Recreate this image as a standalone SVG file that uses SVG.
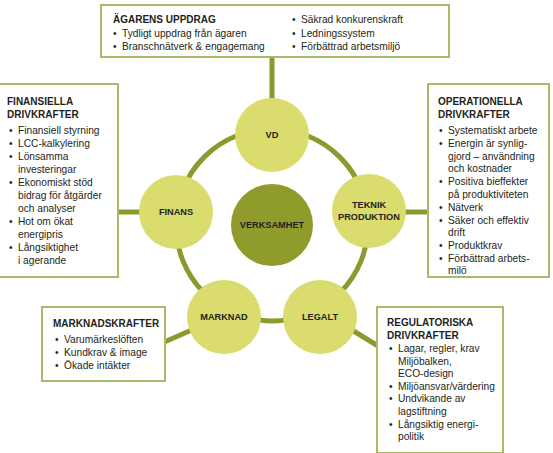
<svg xmlns="http://www.w3.org/2000/svg" width="553" height="453" viewBox="0 0 553 453">
<style>
.box{fill:#fff;stroke:#a9bb68;stroke-width:2}
.con{stroke:#8b9a2e;stroke-width:5;fill:none}
.node{fill:#dadc6e}
.core{fill:#8f9b2b}
.h{font-family:"Liberation Sans",Arial,sans-serif;font-weight:bold;font-size:10px;fill:#231f20}
.t{font-family:"Liberation Sans",Arial,sans-serif;font-size:10.2px;fill:#231f20}
.n{font-family:"Liberation Sans",Arial,sans-serif;font-weight:bold;font-size:9.2px;fill:#231f20;text-anchor:middle}
</style>
<rect width="553" height="453" fill="#fff"/>
<g id="connectors">
<circle class="con" cx="272" cy="225" r="96"/>
<line class="con" x1="272" y1="57" x2="272" y2="102"/>
<line class="con" x1="118" y1="212" x2="142" y2="212"/>
<line class="con" x1="404" y1="212" x2="428" y2="212"/>
<line class="con" x1="162" y1="343" x2="194" y2="329"/>
<line class="con" x1="352" y1="330" x2="378" y2="346"/>
</g>
<g id="box-top">
<rect class="box" x="101" y="5" width="348" height="52"/>
<text class="h" x="113" y="23">ÄGARENS UPPDRAG</text>
<text class="t" x="113" y="37">•</text><text class="t" x="122" y="37">Tydligt uppdrag från ägaren</text>
<text class="t" x="113" y="50">•</text><text class="t" x="122" y="50">Branschnätverk &amp; engagemang</text>
<text class="t" x="292" y="23">•</text><text class="t" x="301" y="23">Säkrad konkurenskraft</text>
<text class="t" x="292" y="37">•</text><text class="t" x="301" y="37">Ledningssystem</text>
<text class="t" x="292" y="50">•</text><text class="t" x="301" y="50">Förbättrad arbetsmiljö</text>
</g>
<g id="box-finans">
<rect class="box" x="-2" y="84" width="120" height="193"/>
<text class="h" x="7" y="105">FINANSIELLA</text>
<text class="h" x="7" y="118">DRIVKRAFTER</text>
<text class="t" x="9" y="134">•</text><text class="t" x="18" y="134">Finansiell styrning</text>
<text class="t" x="9" y="147">•</text><text class="t" x="18" y="147">LCC-kalkylering</text>
<text class="t" x="9" y="160">•</text><text class="t" x="18" y="160">Lönsamma</text>
<text class="t" x="18" y="173">investeringar</text>
<text class="t" x="9" y="186">•</text><text class="t" x="18" y="186">Ekonomiskt stöd</text>
<text class="t" x="18" y="199">bidrag för åtgärder</text>
<text class="t" x="18" y="212">och analyser</text>
<text class="t" x="9" y="225">•</text><text class="t" x="18" y="225">Hot om ökat</text>
<text class="t" x="18" y="238">energipris</text>
<text class="t" x="9" y="251">•</text><text class="t" x="18" y="251">Långsiktighet</text>
<text class="t" x="18" y="264">i agerande</text>
</g>
<g id="box-operationella">
<rect class="box" x="428" y="84" width="121" height="193"/>
<text class="h" x="438" y="105">OPERATIONELLA</text>
<text class="h" x="438" y="118">DRIVKRAFTER</text>
<text class="t" x="439" y="134">•</text><text class="t" x="448" y="134">Systematiskt arbete</text>
<text class="t" x="439" y="147">•</text><text class="t" x="448" y="147">Energin är synlig-</text>
<text class="t" x="448" y="160">gjord – användning</text>
<text class="t" x="448" y="172">och kostnader</text>
<text class="t" x="439" y="185">•</text><text class="t" x="448" y="185">Positiva bieffekter</text>
<text class="t" x="448" y="198">på produktiviteten</text>
<text class="t" x="439" y="211">•</text><text class="t" x="448" y="211">Nätverk</text>
<text class="t" x="439" y="224">•</text><text class="t" x="448" y="224">Säker och effektiv</text>
<text class="t" x="448" y="236">drift</text>
<text class="t" x="439" y="249">•</text><text class="t" x="448" y="249">Produktkrav</text>
<text class="t" x="439" y="262">•</text><text class="t" x="448" y="262">Förbättrad arbets-</text>
<text class="t" x="448" y="274">milö</text>
</g>
<g id="box-marknad">
<rect class="box" x="42" y="307" width="123" height="74"/>
<text class="h" x="53" y="327">MARKNADSKRAFTER</text>
<text class="t" x="55" y="343">•</text><text class="t" x="64" y="343">Varumärkeslöften</text>
<text class="t" x="55" y="356">•</text><text class="t" x="64" y="356">Kundkrav &amp; image</text>
<text class="t" x="55" y="369">•</text><text class="t" x="64" y="369">Ökade intäkter</text>
</g>
<g id="box-regulatoriska">
<rect class="box" x="377" y="307" width="126" height="146"/>
<text class="h" x="387" y="326">REGULATORISKA</text>
<text class="h" x="387" y="339">DRIVKRAFTER</text>
<text class="t" x="389" y="352">•</text><text class="t" x="398" y="352">Lagar, regler, krav</text>
<text class="t" x="398" y="365">Miljöbalken,</text>
<text class="t" x="398" y="377">ECO-design</text>
<text class="t" x="389" y="390">•</text><text class="t" x="398" y="390">Miljöansvar/värdering</text>
<text class="t" x="389" y="402">•</text><text class="t" x="398" y="402">Undvikande av</text>
<text class="t" x="398" y="415">lagstiftning</text>
<text class="t" x="389" y="428">•</text><text class="t" x="398" y="428">Långsiktig energi-</text>
<text class="t" x="398" y="440">politik</text>
</g>
<g id="node-vd"><circle class="node" cx="272" cy="135" r="37"/><text class="n" x="272" y="138">VD</text></g>
<g id="node-finans"><circle class="node" cx="176" cy="212" r="37"/><text class="n" x="176" y="215">FINANS</text></g>
<g id="node-teknik"><circle class="node" cx="369" cy="211" r="37"/><text class="n" x="369" y="208">TEKNIK</text><text class="n" x="369" y="220">PRODUKTION</text></g>
<g id="node-verksamhet"><circle class="core" cx="272" cy="225" r="41"/><text class="n" x="272" y="228">VERKSAMHET</text></g>
<g id="node-marknad"><circle class="node" cx="224" cy="317" r="37"/><text class="n" x="224" y="320">MARKNAD</text></g>
<g id="node-legalt"><circle class="node" cx="320" cy="317" r="37"/><text class="n" x="320" y="320">LEGALT</text></g>
</svg>
